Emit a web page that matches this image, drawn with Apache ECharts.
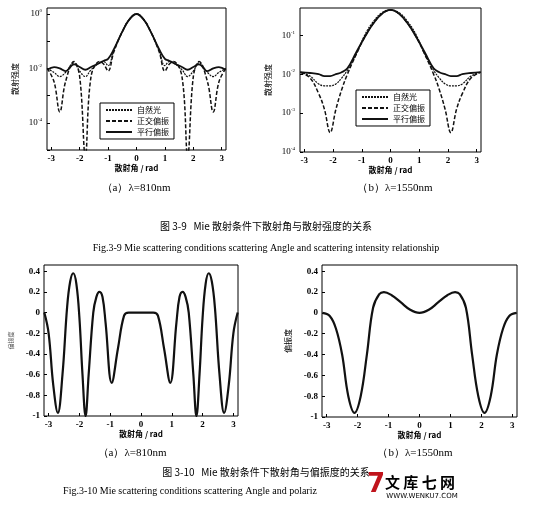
<!DOCTYPE html>
<html><head><meta charset="utf-8">
<script src="https://cdn.jsdelivr.net/npm/echarts@6/dist/echarts.min.js"></script>
<style>html,body{margin:0;padding:0;background:#fff}#c{width:533px;height:505px}</style>
</head><body><div id="c"></div>
<script>
// Top (a) 810nm : log10 of scattering intensity
const xA = [-3.14,-2.9,-2.7,-2.5,-2.2,-2.0,-1.8,-1.6,-1.3,-1.15,-1.0,-0.8,-0.5,-0.25,0,0.25,0.5,0.8,1.0,1.15,1.3,1.6,1.8,2.0,2.2,2.5,2.7,2.9,3.14];
const aPar = [-2.05,-1.95,-2.0,-2.1,-1.85,-1.95,-2.05,-1.95,-1.8,-1.72,-1.65,-1.3,-0.65,-0.2,0,-0.2,-0.65,-1.3,-1.65,-1.72,-1.8,-1.95,-2.05,-1.95,-1.85,-2.1,-2.0,-1.95,-2.05];
const aPerp = [-2.0,-2.5,-3.6,-2.5,-1.75,-2.3,-5.2,-2.3,-1.75,-1.85,-2.1,-1.4,-0.65,-0.2,0,-0.2,-0.65,-1.4,-2.1,-1.85,-1.75,-2.3,-5.2,-2.3,-1.75,-2.5,-3.6,-2.5,-2.0];
const aNat = [-2.0,-2.15,-2.3,-2.15,-1.8,-2.1,-2.3,-2.05,-1.8,-1.75,-1.9,-1.35,-0.65,-0.2,0,-0.2,-0.65,-1.35,-1.9,-1.75,-1.8,-2.05,-2.3,-2.1,-1.8,-2.15,-2.3,-2.15,-2.0];
// Top (b) 1550nm
const xB = [-3.14,-2.8,-2.5,-2.3,-2.1,-1.9,-1.7,-1.5,-1.2,-0.9,-0.6,-0.3,0,0.3,0.6,0.9,1.2,1.5,1.7,1.9,2.1,2.3,2.5,2.8,3.14];
const bPar = [-1.95,-1.97,-2.0,-2.05,-2.05,-2.0,-1.95,-1.85,-1.45,-1.05,-0.7,-0.45,-0.35,-0.45,-0.7,-1.05,-1.45,-1.85,-1.95,-2.0,-2.05,-2.05,-2.0,-1.97,-1.95];
const bPerp = [-1.95,-2.1,-2.5,-2.9,-3.5,-2.9,-2.4,-2.0,-1.5,-1.05,-0.7,-0.45,-0.35,-0.45,-0.7,-1.05,-1.5,-2.0,-2.4,-2.9,-3.5,-2.9,-2.5,-2.1,-1.95];
const bNat = [-1.95,-2.05,-2.25,-2.3,-2.3,-2.25,-2.1,-1.9,-1.5,-1.0,-0.65,-0.42,-0.35,-0.42,-0.65,-1.0,-1.5,-1.9,-2.1,-2.25,-2.3,-2.3,-2.25,-2.05,-1.95];
// Bottom (a) polarization 810nm
const xC = [-3.14,-3.0,-2.85,-2.7,-2.55,-2.4,-2.3,-2.2,-2.1,-2.0,-1.9,-1.8,-1.7,-1.55,-1.45,-1.35,-1.25,-1.15,-0.95,-0.75,-0.55,-0.4,-0.2,0,0.2,0.4,0.55,0.75,0.95,1.15,1.25,1.35,1.45,1.55,1.7,1.8,1.9,2.0,2.1,2.2,2.3,2.4,2.55,2.7,2.85,3.0,3.14];
const cPol = [0,-0.2,-0.7,-0.97,-0.6,0.05,0.3,0.38,0.28,-0.05,-0.6,-1.0,-0.6,0.0,0.15,0.2,0.15,-0.1,-0.68,-0.35,-0.03,0,0,0,0,0,-0.03,-0.35,-0.68,-0.1,0.15,0.2,0.15,0.0,-0.6,-1.0,-0.6,-0.05,0.28,0.38,0.3,0.05,-0.6,-0.97,-0.7,-0.2,0];
// Bottom (b) polarization 1550nm
const xD = [-3.14,-2.9,-2.7,-2.5,-2.3,-2.1,-1.9,-1.7,-1.5,-1.3,-1.15,-0.9,-0.6,-0.3,0,0.3,0.6,0.9,1.15,1.3,1.5,1.7,1.9,2.1,2.3,2.5,2.7,2.9,3.14];
const dPol = [0,-0.03,-0.15,-0.4,-0.8,-0.96,-0.8,-0.4,0.05,0.18,0.2,0.17,0.1,0.03,0,0.03,0.1,0.17,0.2,0.18,0.05,-0.4,-0.8,-0.96,-0.8,-0.4,-0.15,-0.03,0];
const names = ['自然光','正交偏振','平行偏振'];

const serif = 'Liberation Serif';
const pair = (xs, ys, lg) => xs.map((x,i)=>[x, lg ? Math.pow(10, ys[i]) : ys[i]]);
const grids = [
  {left:47, top:8, width:179, height:142},
  {left:300, top:8, width:181, height:144},
  {left:44, top:265, width:194, height:151},
  {left:322, top:265, width:195, height:152}
].map(g=>Object.assign(g,{show:true,borderColor:'#000',borderWidth:1,backgroundColor:'#fff'}));
const xAxis = grids.map((g,i)=>({type:'value',gridIndex:i,min:-3.15,max:3.15,
  axisLine:{show:false,onZero:false},axisTick:{inside:true,length:3,lineStyle:{color:'#000'}},splitLine:{show:false},
  axisLabel:{showMinLabel:false,showMaxLabel:false,color:'#000',fontFamily:serif,fontSize:9,fontWeight:'bold',margin:4},
  name:'散射角 / rad',nameLocation:'middle',nameGap:14,nameTextStyle:{fontSize:8,color:'#000',fontFamily:'Noto Sans CJK SC',fontWeight:'bold'}}));
const logLabel = (even)=>({color:'#000',fontFamily:serif,fontSize:9,margin:5,showMaxLabel:false,
  formatter:v=>{const e=Math.round(Math.log10(v)); if(even && e%2!==0) return ''; return '{b|10}{s|'+e+'}';},
  rich:{b:{fontSize:9,fontFamily:serif,color:'#000'},s:{fontSize:5,fontFamily:serif,color:'#000',verticalAlign:'top',padding:[0,0,6,0]}}});
const yCommon = {axisLine:{show:false,onZero:false},splitLine:{show:false},axisTick:{inside:true,length:3,lineStyle:{color:'#000'}}};
const yAxis = [
  Object.assign({type:'log',gridIndex:0,logBase:10,min:1e-5,max:Math.pow(10,0.22),axisLabel:logLabel(true),
   name:'散射强度',nameLocation:'middle',nameGap:28,nameTextStyle:{fontSize:8,color:'#000',fontFamily:'Noto Sans CJK SC'}},yCommon),
  Object.assign({type:'log',gridIndex:1,logBase:10,min:1e-4,max:Math.pow(10,-0.3),axisLabel:logLabel(false),
   name:'散射强度',nameLocation:'middle',nameGap:28,nameTextStyle:{fontSize:8,color:'#000',fontFamily:'Noto Sans CJK SC'}},yCommon),
  Object.assign({type:'value',gridIndex:2,min:-1,max:0.46,interval:0.2,
   axisLabel:{color:'#000',fontFamily:serif,fontSize:9,fontWeight:'bold',margin:4,showMaxLabel:false},
   name:'偏振度',nameLocation:'middle',nameGap:30,nameTextStyle:{fontSize:6,color:'#555',fontFamily:'Noto Sans CJK SC'}},yCommon),
  Object.assign({type:'value',gridIndex:3,min:-1,max:0.46,interval:0.2,
   axisLabel:{color:'#000',fontFamily:serif,fontSize:9,fontWeight:'bold',margin:4,showMaxLabel:false},
   name:'偏振度',nameLocation:'middle',nameGap:30,nameTextStyle:{fontSize:8,color:'#000',fontFamily:'Noto Sans CJK SC'}},yCommon)
];
const sty = [{type:[2,1],width:1.2},{type:[4,2],width:1.5},{type:'solid',width:1.8}];
const series = [];
[[xA,[aNat,aPerp,aPar],0],[xB,[bNat,bPerp,bPar],1]].forEach(([xs,arrs,gi])=>{
  arrs.forEach((ys,k)=>series.push({type:'line',name:names[k],xAxisIndex:gi,yAxisIndex:gi,data:pair(xs,ys,true),
    smooth:0.4,symbol:'none',clip:true,lineStyle:Object.assign({color:'#111'},sty[k]),itemStyle:{color:'#111'},z:3-k+2}));
});
series.push({type:'line',xAxisIndex:2,yAxisIndex:2,data:pair(xC,cPol,false),smooth:0.4,symbol:'none',lineStyle:{color:'#111',width:2.2}});
series.push({type:'line',xAxisIndex:3,yAxisIndex:3,data:pair(xD,dPol,false),smooth:0.4,symbol:'none',lineStyle:{color:'#111',width:2.2}});
const legendBase = {orient:'vertical',data:names,itemWidth:26,itemHeight:6,itemGap:3,padding:[3,5],
  itemStyle:{opacity:0},
  borderColor:'#000',borderWidth:1,backgroundColor:'#fff',textStyle:{fontSize:8,color:'#000',fontFamily:'Noto Sans CJK SC'}};
const txt = (x,y,t,size,font,extra)=>({type:'text',x,y,style:Object.assign({text:t,fontSize:size,fontFamily:font,fill:'#000',textAlign:'center'},extra||{})});
const chart = echarts.init(document.getElementById('c'));
chart.setOption({
  animation:false, grid:grids, xAxis, yAxis, series,
  legend:[Object.assign({left:100,top:103},legendBase),Object.assign({left:356,top:90},legendBase)],
  graphic:[
    txt(136,183,'（a）λ=810nm',11,serif),
    txt(395,183,'（b）λ=1550nm',11,serif),
    txt(266,221,'图 3-9   Mie 散射条件下散射角与散射强度的关系',10,'Noto Sans CJK SC'),
    txt(266,243,'Fig.3-9 Mie scattering conditions scattering Angle and scattering intensity relationship',10,serif),
    txt(132,448,'（a）λ=810nm',11,serif),
    txt(415,448,'（b）λ=1550nm',11,serif),
    txt(266,467,'图 3-10   Mie 散射条件下散射角与偏振度的关系',10,'Noto Sans CJK SC'),
    txt(190,486,'Fig.3-10 Mie scattering conditions scattering Angle and polariz',10,serif),
    txt(420,475,'文 库 七 网',15,'Noto Sans CJK SC',{fontWeight:'bold'}),
    txt(422,493,'WWW.WENKU7.COM',7,'DejaVu Sans'),
    txt(376,472,'7',26,'DejaVu Sans',{fill:'#c0141c',fontWeight:'bold'})
  ]
});
</script></body></html>
